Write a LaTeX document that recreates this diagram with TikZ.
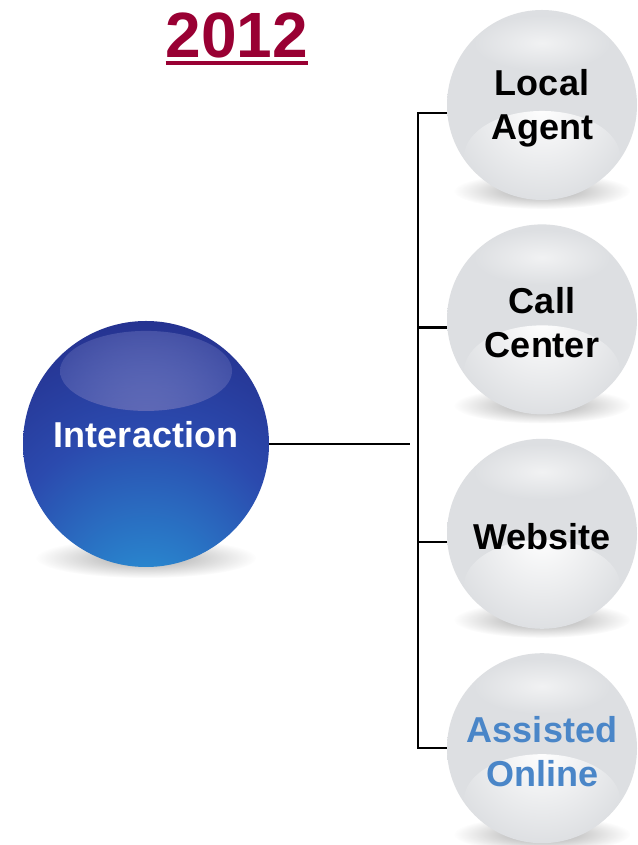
\documentclass[tikz,border=0pt]{standalone}
\usepackage{fontspec}
\setmainfont{Liberation Sans}
\usetikzlibrary{positioning,fadings,backgrounds}

\definecolor{titlered}{HTML}{990033}
\definecolor{navyball}{HTML}{232A86}
\definecolor{midball}{HTML}{2B4AAE}
\definecolor{glowball}{HTML}{27A9E1}
\definecolor{capblue}{HTML}{7077C2}
\definecolor{greyface}{HTML}{DDDFE2}
\definecolor{greyrim}{HTML}{B4B4B4}
\definecolor{assistblue}{HTML}{4A86C8}

\pgfdeclareradialshading{blueball}{\pgfpoint{0bp}{-39bp}}{color(0bp)=(glowball); color(12bp)=(glowball!55!midball); color(30bp)=(midball); color(52bp)=(navyball); color(100bp)=(navyball)}
\pgfdeclareradialshading{greyball}{\pgfpoint{0bp}{0bp}}{color(0bp)=(greyface); color(40bp)=(greyface); color(47bp)=(greyrim!45!greyface); color(50bp)=(greyrim)}
\tikzfading[name=softspot, inner color=transparent!0, outer color=transparent!100]
\tikzfading[name=softcap, inner color=transparent!0, outer color=transparent!70]

\begin{document}
\begin{tikzpicture}[
    x=1pt, y=1pt,
    node distance=24pt,
    ball/.style={circle, minimum size=190pt, inner sep=0pt, align=center, shade, shading=greyball,
      font=\fontsize{36}{44}\selectfont\bfseries, text height=32pt,
      path picture={
        \fill[white, path fading=softspot] ([yshift=-52pt]path picture bounding box.center) ellipse [x radius=78, y radius=46];
        \fill[white, opacity=0.6, path fading=softspot] ([yshift=62pt]path picture bounding box.center) ellipse [x radius=70, y radius=28];
      }},
    twolines/.style={text height=76pt},
    hub/.style={circle, minimum size=246pt, inner sep=0pt, shade, shading=blueball, text=white,
      font=\fontsize{36}{44}\selectfont\bfseries, text depth=20pt,
      path picture={
        \shade[top color=capblue!85!white, bottom color=navyball!70!capblue, path fading=softcap] ([yshift=73pt]path picture bounding box.center) ellipse [x radius=86, y radius=40];
      }},
    link/.style={line width=2.4pt, black},
    blob/.style={fill=black!35, path fading=softspot}
  ]
    \useasboundingbox (0,0) rectangle (637,845);
    % title
    \node[anchor=base, inner sep=0pt, text=titlered, font=\fontsize{64}{70}\selectfont\bfseries] (year) at (237,787) {2012};
    \draw[titlered, line width=3.5pt] ([yshift=-5pt]year.base west) -- ([yshift=-5pt]year.base east);
    % spheres
    \node[hub] (interaction) at (146,401) {Interaction};
    \node[ball, twolines] (agent) at (542,740) {Local\\Agent};
    \node[ball, twolines, below=of agent] (call) {Call\\Center};
    \node[ball, below=of call] (website) {Website};
    \node[ball, twolines, below=of website, text=assistblue] (assisted) {Assisted\\Online};
    \begin{pgfonlayer}{background}
      \fill[white] (0,0) rectangle (637,845);
      \foreach \n in {agent,call,website,assisted}
        \fill[blob] ([yshift=-86pt]\n.center) ellipse [x radius=88, y radius=18];
      \fill[blob] ([yshift=-114pt]interaction.center) ellipse [x radius=110, y radius=20];
    \end{pgfonlayer}
    % bracket
    \coordinate (bus) at (418,401);
    \draw[link] (interaction.east) -- ([xshift=-8pt]bus);
    \draw[link] (agent.185) -| (bus |- assisted.west) -- (assisted.west);
    \draw[link] (call.185) -- (call.185 -| bus);
    \draw[link] (website.185) -- (website.185 -| bus);
  \end{tikzpicture}
\end{document}
